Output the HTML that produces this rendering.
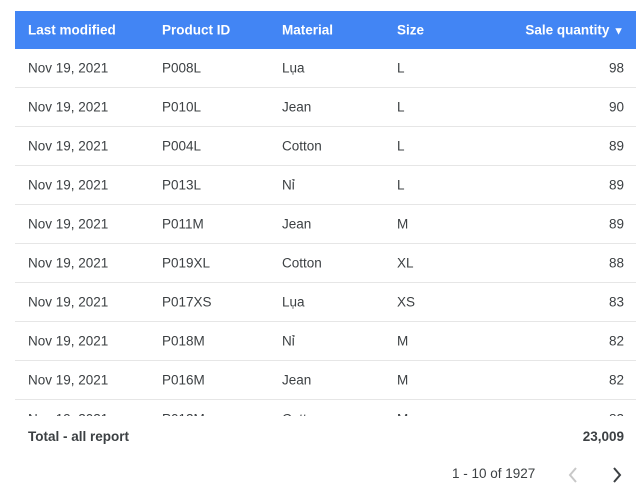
<!DOCTYPE html>
<html><head><meta charset="utf-8"><style>
body{margin:0;width:640px;height:496px;background:#fff;font-family:"Liberation Sans","Noto Sans CJK SC",sans-serif;position:relative;overflow:hidden}
.hdr{position:absolute;left:15px;top:11px;width:621px;height:38px;background:#4285f4;color:#fff;font-weight:bold;font-size:13.5px}
.c{position:absolute;white-space:nowrap}
.body{position:absolute;left:15px;top:49px;width:621px;height:367px;overflow:hidden}
.row{position:absolute;left:0;width:621px;height:39px;border-bottom:1px solid #e6e6e6;box-sizing:border-box;color:#3c4043;font-size:13.5px}
.row .c,.hdr .c{top:50%;transform:translateY(-50%)}
.r{right:12px}
.tot{position:absolute;top:429px;font-weight:bold;font-size:13.5px;color:#3c4043}
</style></head><body>
<div class="hdr">
<span class="c" style="left:13px">Last modified</span>
<span class="c" style="left:147px">Product ID</span>
<span class="c" style="left:267px">Material</span>
<span class="c" style="left:382px">Size</span>
<span class="c r">Sale quantity <span style="font-size:11px">&#9660;</span></span>
</div>
<div class="body" id="body"></div>
<div class="tot" style="left:28px">Total - all report</div>
<div class="tot" style="right:16px">23,009</div>
<div class="c" style="left:452px;top:466px;font-size:13.5px;color:#3c4043">1 - 10 of 1927</div>
<svg style="position:absolute;left:566px;top:466px" width="14" height="18"><path d="M10 2 L4 9 L10 16" stroke="#c8c8c8" stroke-width="2" fill="none"/></svg>
<svg style="position:absolute;left:610px;top:466px" width="14" height="18"><path d="M4 2 L10 9 L4 16" stroke="#3c4043" stroke-width="2" fill="none"/></svg>
<script>
const dates=["Nov 19, 2021","Nov 19, 2021","Nov 19, 2021","Nov 19, 2021","Nov 19, 2021","Nov 19, 2021","Nov 19, 2021","Nov 19, 2021","Nov 19, 2021","Nov 19, 2021"];
const ids=["P008L","P010L","P004L","P013L","P011M","P019XL","P017XS","P018M","P016M","P012M"];
const materials=["Lụa","Jean","Cotton","Nỉ","Jean","Cotton","Lụa","Nỉ","Jean","Cotton"];
const sizes=["L","L","L","L","M","XL","XS","M","M","M"];
const qty=[98,90,89,89,89,88,83,82,82,82];
const body=document.getElementById('body');
for(let i=0;i<ids.length;i++){
const r=document.createElement('div');r.className='row';r.style.top=(i*39)+'px';


const cells=[[dates[i],'left:13px'],[ids[i],'left:147px'],[materials[i],'left:267px'],[sizes[i],'left:382px'],[qty[i],'right:12px']];
cells.forEach(([t,s])=>{const c=document.createElement('span');c.className='c';c.style.cssText=s;c.textContent=t;


r.appendChild(c);});
body.appendChild(r);}
</script>
</body></html>
